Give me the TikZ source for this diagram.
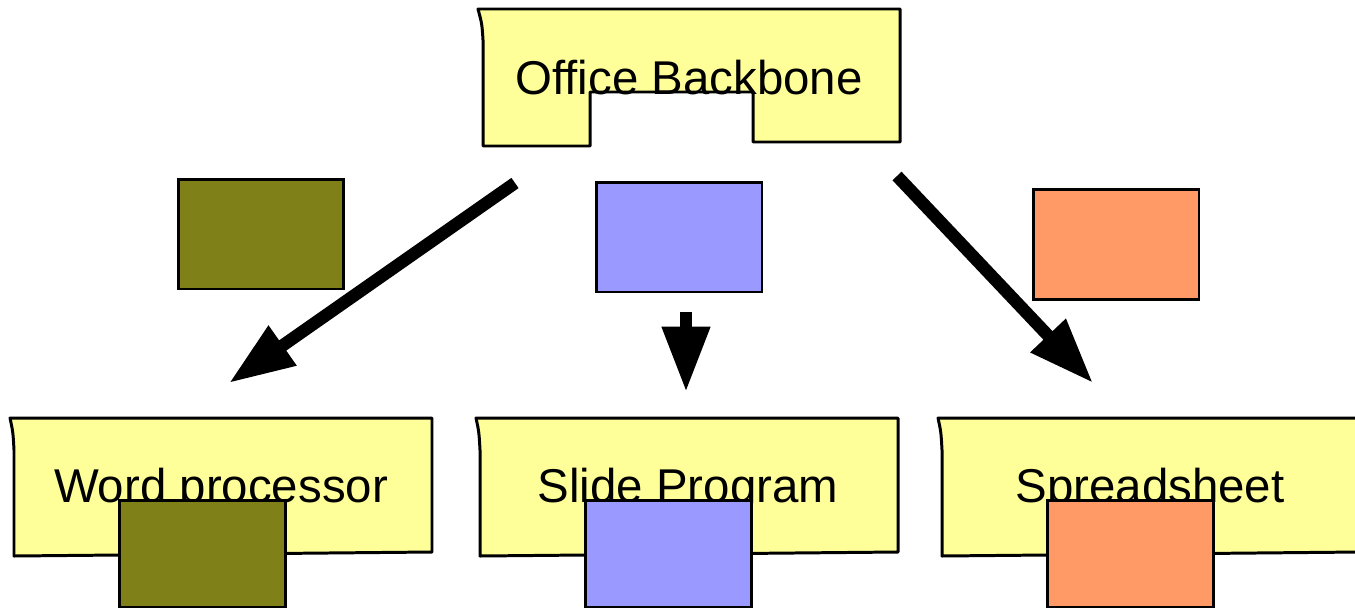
\documentclass[tikz,border=0pt]{standalone}
\usepackage{fontspec}
\setmainfont{Liberation Sans}
\usetikzlibrary{arrows.meta}
\definecolor{notepaper}{HTML}{FFFF99}
\definecolor{wordolive}{HTML}{808019}
\definecolor{slideblue}{HTML}{9999FF}
\definecolor{sheetorange}{HTML}{FF9966}
\tikzset{
        paper/.style={fill=notepaper, draw=black, line width=1.7pt, line join=round}, % the yellow sheets
        chip/.style={draw=black, line width=1.7pt, inner sep=0pt, minimum width=3.32cm, minimum height=2.2cm}, % coloured squares
        lowchip/.style={chip, minimum height=2.14cm}, % the ones cut by the bottom edge
        boxtext/.style={font=\fontsize{27}{32}\selectfont, anchor=base, inner sep=0pt},
        bigarrow/.style={-{Triangle[length=1.31cm, width=0.91cm]}, line width=0.25cm},
}
\def\backbonebox{(478,9) -- (900,9) -- (900,142) -- (753,142) -- (753,92) -- (590,92) -- (590,146) -- (483,146) -- (483,40) .. controls (482,24) .. (478,9) -- cycle}
\def\paperbox#1#2{(#1,418) -- (#2,418) -- (#2,552) -- ({#1+4},556) -- ({#1+4},450) .. controls ({#1+3},432) .. (#1,418) -- cycle}

\begin{document}
\begin{tikzpicture}[x=0.02cm, y=-0.02cm]
    \useasboundingbox (0,0) rectangle (1355,609);
    % sheets
    \draw[paper] \backbonebox;
    \draw[paper] \paperbox{10}{432};
    \draw[paper] \paperbox{476}{898};
    \draw[paper] \paperbox{938}{1360};
    \node[boxtext] (backbone) at (689,94) {Office Backbone};
    \node[boxtext] (word) at (221,502) {Word processor};
    \node[boxtext] (slide) at (688,502) {Slide Program};
    \node[boxtext] (sheet) at (1150,502) {Spreadsheet};
    % coloured squares
    \node[chip, fill=wordolive] (wordchip) at (261,234) {};
    \node[chip, fill=slideblue] (slidechip) at (679,237) {};
    \node[chip, fill=sheetorange] (sheetchip) at (1116,244.5) {};
    \node[lowchip, fill=wordolive] (wordlow) at (202.5,553.5) {};
    \node[lowchip, fill=slideblue] (slidelow) at (668.5,553.5) {};
    \node[lowchip, fill=sheetorange] (sheetlow) at (1130.5,553.5) {};
    % arrows
    \coordinate (wordfrom) at (515,183);
    \coordinate (wordto) at (229,383);
    \coordinate (slidefrom) at (686,312);
    \coordinate (slideto) at (686,392);
    \coordinate (sheetfrom) at (897,176);
    \coordinate (sheetto) at (1093,383);
    \draw[bigarrow] (wordfrom) -- (wordto);
    \draw[bigarrow] (slidefrom) -- (slideto);
    \draw[bigarrow] (sheetfrom) -- (sheetto);
\end{tikzpicture}
\end{document}
